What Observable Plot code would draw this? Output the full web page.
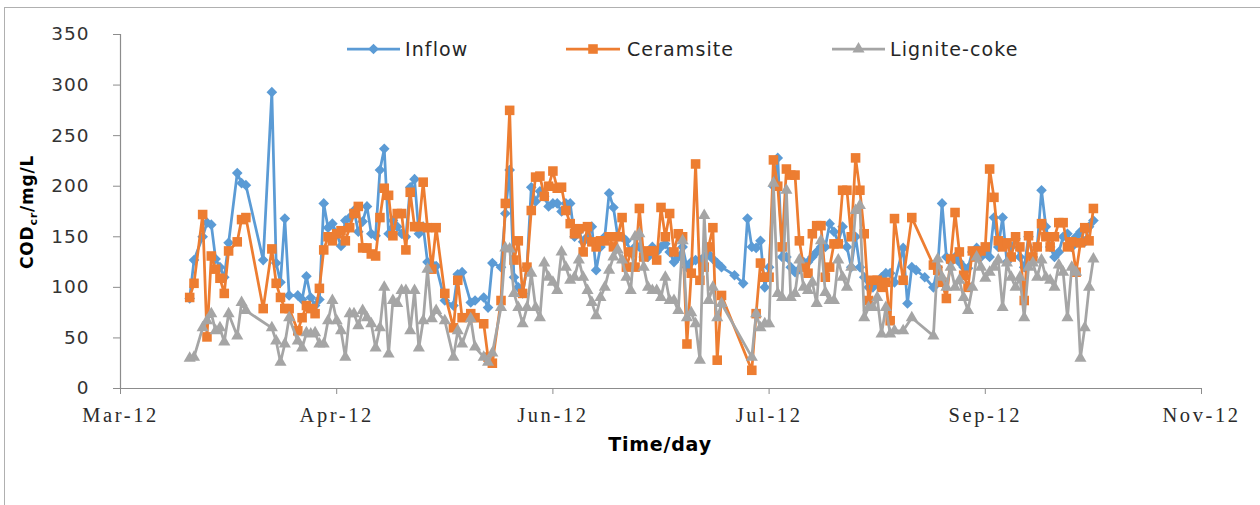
<!DOCTYPE html>
<html><head><meta charset="utf-8">
<script src="https://cdn.jsdelivr.net/npm/d3@7"></script>
<script src="https://cdn.jsdelivr.net/npm/@observablehq/plot@0.6"></script>
<style>
body{margin:0;background:#fff;}
#wrap{position:relative;width:1260px;height:505px;overflow:hidden;}
#frame{position:absolute;left:4px;top:7px;width:1300px;height:600px;border:1px solid #b0b0b0;box-sizing:border-box;}
#chart{position:absolute;left:0;top:0;}
g[aria-label="y-axis tick label"]{font:18.5px "DejaVu Sans";letter-spacing:1px;fill:#333;}
g[aria-label="x-axis tick label"]{font:20.5px "Liberation Serif";letter-spacing:2.6px;fill:#2b2b2b;}
</style></head><body><div id="wrap"><div id="frame"></div><div id="chart"></div></div>
<script>
// day offsets from 2012-03-01
const days = [
16,17,19,20,21,22,23,24,25,27,
28,29,33,35,36,37,38,39,41,42,
43,44,45,46,47,48,49,50,51,52,
53,54,55,56,57,58,59,60,61,62,
63,64,65,66,67,68,69,70,71,72,
73,75,77,78,79,81,82,84,85,86,
88,89,90,91,92,93,94,95,96,97,
98,99,100,101,102,103,104,105,106,107,
108,109,110,111,112,113,114,115,116,117,
118,119,120,121,122,123,124,125,126,127,
128,129,130,131,132,133,134,135,136,137,
138,139,142,144,145,146,147,148,149,150,
151,152,153,154,155,156,157,158,159,160,
161,162,163,164,165,166,167,168,169,170,
171,172,173,174,175,176,177,178,179,181,
182,183,184,186,188,189,190,191,192,193,
194,195,196,197,198,199,200,201,202,203,
204,205,206,207,208,209,210,211,212,213,
214,215,216,217,218,219,220,221,222,223,
224,225];
const inflow = [
89,127,150,164,162,128,120,110,144,213,
203,201,127,293,124,105,168,92,92,88,
111,90,82,88,183,159,163,153,141,166,
169,176,155,165,180,153,151,216,237,153,
166,160,153,150,199,207,153,160,125,123,
121,87,82,113,115,85,87,90,80,124,
120,173,216,110,100,94,120,199,185,195,
190,180,183,183,175,183,183,150,155,145,
150,160,117,140,150,193,179,150,150,146,
135,140,140,130,130,140,135,140,143,135,
125,130,140,120,125,127,127,130,133,128,
124,120,112,104,168,140,139,146,100,120,
200,228,130,130,120,115,118,125,125,130,
135,140,140,163,155,145,160,140,120,150,
120,110,100,100,105,110,114,114,105,139,
84,120,117,110,100,120,183,130,125,130,
125,120,119,135,139,130,135,130,169,140,
169,125,140,148,130,120,150,130,140,196,
160,140,130,135,150,153,140,150,155,145,
160,166];
const ceramsite = [
90,104,172,51,131,118,109,94,136,145,
167,169,79,138,104,90,79,79,57,70,
82,79,74,99,137,150,146,153,156,146,
159,173,180,139,139,133,131,169,198,191,
151,173,173,137,194,160,160,204,159,118,
159,94,60,107,70,74,70,64,31,25,
87,183,275,127,146,94,120,176,209,210,
190,200,215,198,199,176,163,153,158,135,
160,145,140,146,146,150,140,150,169,120,
135,120,178,130,136,136,127,179,150,173,
135,153,150,44,114,222,107,120,140,159,
28,92,null,null,null,18,74,124,110,110,
226,200,140,217,211,211,146,120,114,153,
161,161,110,120,143,143,196,196,150,228,
196,153,87,107,107,100,105,67,168,107,
null,169,null,null,122,117,105,89,128,174,
135,112,100,136,130,136,140,217,189,146,
140,144,130,150,140,87,151,130,140,163,
150,140,150,164,164,140,145,115,144,159,
146,178];
const lignite = [
30,31,60,67,74,57,60,46,74,52,
85,77,null,60,47,26,44,70,47,40,
55,54,55,44,44,67,87,67,57,31,
74,74,62,77,70,64,40,60,100,34,
87,84,97,97,57,97,40,67,118,69,
77,67,31,57,44,69,41,31,26,35,
80,139,138,94,80,64,80,114,80,70,
124,110,105,97,135,120,107,110,127,110,
97,85,72,90,100,117,130,137,127,110,
97,150,153,120,100,97,97,90,110,87,
87,77,146,70,75,64,28,171,87,100,
70,84,null,null,null,31,74,60,64,64,
203,94,90,196,90,94,127,100,97,105,
84,146,95,87,87,127,110,100,120,176,
181,70,80,80,90,54,80,54,57,57,
null,70,null,null,52,128,110,100,120,100,
107,90,77,100,130,120,109,115,120,127,
80,124,110,100,110,70,120,124,110,127,
110,107,100,122,115,70,120,115,30,60,
100,128];
const tickDays = [0,50,100,150,200,250];
const yTicks = [0,50,100,150,200,250,300,350];
const seriesNames = ["Inflow","Ceramsite","Lignite-coke"];
const seriesColors = ["#5B9BD5","#ED7D31","#A5A5A5"];
const seriesSymbols = ["diamond2","square","triangle"];
const seriesR = [4.8,5.4,4.5];

const start = new Date(Date.UTC(2012,2,1));
const toDate = d => d3.utcDay.offset(start, d);
const allValues = [inflow, ceramsite, lignite];
const seriesData = allValues.map(vals => days.map((d,i)=>({date: toDate(d), v: vals[i]})).filter(r => r.v != null));

const marks = [
  Plot.ruleY([0], {stroke:"#8c8c8c", strokeWidth:1.2}),
  Plot.ruleX([toDate(0)], {stroke:"#8c8c8c", strokeWidth:1.2}),
  Plot.axisY({ticks: yTicks, tickSize:7, tickPadding:24, stroke:"#8c8c8c", label:null, tickFormat: d3.format("d")}),
  Plot.axisX({ticks: tickDays.map(toDate), tickSize:6, tickPadding:13, stroke:"#8c8c8c", label:null, tickFormat: d3.utcFormat("%b-%y")})
];
seriesData.forEach((data,k) => {
  marks.push(Plot.line(data, {x:"date", y:"v", stroke:seriesColors[k], strokeWidth:2.75, curve:"linear"}));
  marks.push(Plot.dot(data, {x:"date", y:"v", fill:seriesColors[k], stroke:"none", symbol:seriesSymbols[k], r:seriesR[k]}));
});

const chart = Plot.plot({
  width:1260, height:505,
  marginLeft:120, marginRight:59, marginTop:34, marginBottom:117,
  style:{background:"transparent", fontFamily:"DejaVu Sans", overflow:"visible"},
  x:{type:"utc", domain:[toDate(0), toDate(250)]},
  y:{domain:[0,350]},
  marks
});
document.getElementById("chart").appendChild(chart);

const svg = d3.select(chart);
// legend
const legendPos = [{x0:347,x1:400,tx:405},{x0:566,x1:620,tx:627},{x0:832,x1:885,tx:890}];
const symTypes = [d3.symbolDiamond2, d3.symbolSquare, d3.symbolTriangle];
const lg = svg.append("g").attr("text-anchor","start");
seriesNames.forEach((name,k) => {
  const p = legendPos[k], y = 49;
  lg.append("line").attr("x1",p.x0).attr("x2",p.x1).attr("y1",y).attr("y2",y)
    .attr("stroke",seriesColors[k]).attr("stroke-width",2.75);
  lg.append("path").attr("d", d3.symbol().type(symTypes[k]).size(Math.PI*seriesR[k]*seriesR[k])())
    .attr("transform",`translate(${(p.x0+p.x1)/2},${y})`).attr("fill",seriesColors[k]);
  lg.append("text").attr("x",p.tx).attr("y",y).attr("dy","0.35em").attr("text-anchor","start")
    .style("font","19px 'DejaVu Sans'").style("letter-spacing","1.1px").attr("fill","#262626").text(name);
});
// axis titles
const yl = svg.append("text").attr("transform","translate(33,212) rotate(-90)").attr("text-anchor","middle")
  .style("font","bold 17px 'DejaVu Sans'").style("letter-spacing","0.8px").attr("fill","#000");
yl.append("tspan").text("COD");
yl.append("tspan").attr("dy","4").style("font-size","11px").text("cr");
yl.append("tspan").attr("dy","-4").text("/mg/L");
svg.append("text").attr("x",660).attr("y",451).attr("text-anchor","middle")
  .style("font","bold 19px 'DejaVu Sans'").style("letter-spacing","0.8px").attr("fill","#000").text("Time/day");
</script>
</body></html>
